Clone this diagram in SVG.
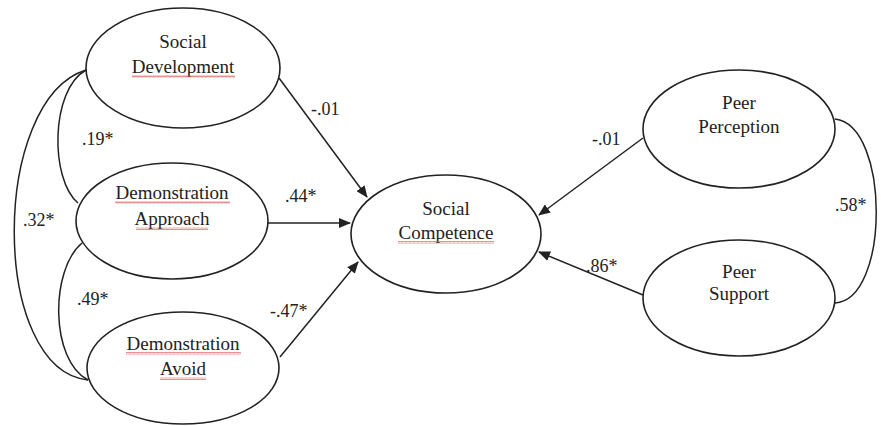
<svg xmlns="http://www.w3.org/2000/svg" width="881" height="426" viewBox="0 0 881 426">
<style>
.node{fill:#fff;stroke:#222;stroke-width:1.6}
.t{font-family:"Liberation Serif","Times New Roman",serif;font-size:19px;fill:#222;text-anchor:middle}
.lb{font-family:"Liberation Serif","Times New Roman",serif;font-size:18px;fill:#222}
.c{fill:none;stroke:#222;stroke-width:1.5}
.a{fill:none;stroke:#222;stroke-width:1.5;marker-end:url(#ah)}
.sq{fill:url(#wave)}
</style>
<defs>
<marker id="ah" markerWidth="12" markerHeight="10" refX="11" refY="5" orient="auto" markerUnits="userSpaceOnUse">
<path d="M0,0 L12,5 L0,10 Z" fill="#222"/>
</marker>
<pattern id="wave" width="4" height="3" patternUnits="userSpaceOnUse">
<path d="M0,2.5 L1,0.5 L2,2.5 L3,0.5 L4,2.5" fill="none" stroke="#e06060" stroke-width="0.7"/>
</pattern>
</defs>
<rect width="881" height="426" fill="#fff"/>
<g id="connectors">
<path class="c" d="M86,70 C50,90 50,180 78,203"/>
<path class="c" d="M86,70 C-10,100 -10,370 88,380"/>
<path class="c" d="M82,243 C50,270 50,360 88,380"/>
<path class="c" d="M835,119 C890,125 890,300 835,303"/>
<path class="a" d="M279,78 L367,197"/>
<path class="a" d="M268,223 L350,223"/>
<path class="a" d="M280,357 L358,262"/>
<path class="a" d="M643,138 L539,215"/>
<path class="a" d="M643,295 L539,252"/>
<text class="lb" x="82" y="145">.19*</text>
<text class="lb" x="23" y="226">.32*</text>
<text class="lb" x="77" y="305">.49*</text>
<text class="lb" x="311" y="115">-.01</text>
<text class="lb" x="285" y="202">.44*</text>
<text class="lb" x="270" y="317">-.47*</text>
<text class="lb" x="592" y="145">-.01</text>
<text class="lb" x="586" y="272">.86*</text>
<text class="lb" x="835" y="211">.58*</text>
</g>
<g id="social-development">
<ellipse class="node" cx="183" cy="68" rx="97" ry="60"/>
<text class="t" x="183" y="48">Social</text>
<text class="t" x="183" y="73">Development</text>
<rect class="sq" x="132" y="75" width="103" height="3"/>
</g>
<g id="demonstration-approach">
<ellipse class="node" cx="172" cy="221" rx="96" ry="58"/>
<text class="t" x="172" y="199">Demonstration</text>
<text class="t" x="172" y="225">Approach</text>
<rect class="sq" x="115" y="201" width="115" height="3"/>
<rect class="sq" x="136" y="227" width="72" height="3"/>
</g>
<g id="demonstration-avoid">
<ellipse class="node" cx="183" cy="368" rx="96" ry="56"/>
<text class="t" x="183" y="350">Demonstration</text>
<text class="t" x="183" y="375">Avoid</text>
<rect class="sq" x="126" y="352" width="115" height="3"/>
<rect class="sq" x="160" y="377" width="46" height="3"/>
</g>
<g id="social-competence">
<ellipse class="node" cx="446" cy="234" rx="95" ry="59"/>
<text class="t" x="446" y="215">Social</text>
<text class="t" x="446" y="239">Competence</text>
<rect class="sq" x="398" y="241" width="96" height="3"/>
</g>
<g id="peer-perception">
<ellipse class="node" cx="739" cy="129" rx="96" ry="59"/>
<text class="t" x="739" y="109">Peer</text>
<text class="t" x="739" y="133">Perception</text>
</g>
<g id="peer-support">
<ellipse class="node" cx="739" cy="298" rx="96" ry="58"/>
<text class="t" x="739" y="278">Peer</text>
<text class="t" x="739" y="300">Support</text>
</g>
</svg>
